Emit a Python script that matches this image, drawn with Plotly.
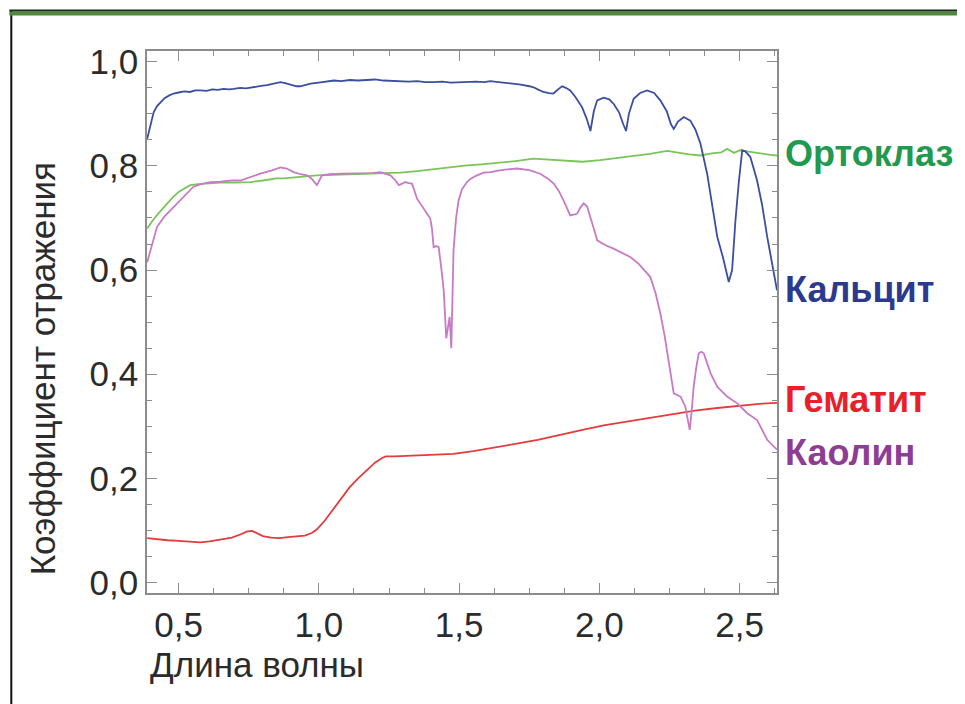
import plotly.graph_objects as go

# ---- data ----
calcite_x = [0.388,0.40,0.411,0.423,0.435,0.45,0.465,0.482,0.50,0.52,0.54,0.56,0.577,0.60,0.62,0.64,0.66,0.68,0.696,0.72,0.74,0.76,0.78,0.80,0.815,0.84,0.863,0.88,0.90,0.92,0.934,0.95,0.97,1.0,1.03,1.053,1.08,1.11,1.14,1.172,1.20,1.23,1.26,1.29,1.32,1.35,1.38,1.408,1.44,1.47,1.50,1.528,1.56,1.59,1.611,1.64,1.66,1.683,1.72,1.75,1.765,1.78,1.80,1.82,1.836,1.855,1.867,1.88,1.896,1.915,1.938,1.955,1.968,1.98,1.992,2.015,2.035,2.051,2.07,2.085,2.095,2.105,2.122,2.145,2.17,2.195,2.217,2.24,2.255,2.265,2.28,2.301,2.324,2.342,2.36,2.384,2.408,2.42,2.44,2.461,2.473,2.485,2.497,2.509,2.52,2.538,2.562,2.58,2.598,2.615,2.633]
calcite_y = [0.852,0.88,0.903,0.915,0.922,0.930,0.935,0.939,0.941,0.943,0.942,0.945,0.945,0.944,0.947,0.946,0.948,0.947,0.948,0.950,0.949,0.951,0.952,0.954,0.955,0.958,0.961,0.959,0.956,0.953,0.953,0.955,0.958,0.960,0.962,0.964,0.963,0.965,0.964,0.965,0.966,0.964,0.963,0.963,0.962,0.963,0.961,0.961,0.962,0.960,0.961,0.961,0.962,0.961,0.963,0.961,0.960,0.959,0.956,0.953,0.951,0.947,0.942,0.940,0.939,0.948,0.953,0.950,0.945,0.932,0.913,0.890,0.867,0.905,0.926,0.931,0.928,0.919,0.903,0.880,0.867,0.900,0.929,0.940,0.945,0.940,0.926,0.905,0.880,0.871,0.885,0.894,0.887,0.870,0.843,0.785,0.709,0.664,0.625,0.577,0.600,0.696,0.770,0.830,0.828,0.817,0.772,0.725,0.664,0.615,0.561]

orthoclase_x = [0.388,0.41,0.435,0.459,0.48,0.50,0.52,0.541,0.57,0.613,0.65,0.70,0.756,0.80,0.85,0.874,0.93,0.993,1.05,1.10,1.172,1.23,1.29,1.35,1.40,1.45,1.528,1.58,1.65,1.70,1.765,1.82,1.88,1.94,2.003,2.06,2.12,2.18,2.241,2.28,2.32,2.36,2.40,2.435,2.455,2.48,2.50,2.538,2.58,2.61,2.633]
orthoclase_y = [0.680,0.697,0.713,0.728,0.740,0.750,0.757,0.763,0.765,0.767,0.768,0.768,0.769,0.772,0.776,0.776,0.779,0.782,0.783,0.784,0.785,0.786,0.787,0.790,0.793,0.797,0.801,0.803,0.806,0.809,0.814,0.812,0.810,0.808,0.811,0.815,0.820,0.823,0.829,0.825,0.822,0.820,0.824,0.826,0.833,0.825,0.830,0.827,0.823,0.821,0.820]

kaolin_x = [0.388,0.40,0.423,0.45,0.482,0.52,0.553,0.58,0.613,0.65,0.69,0.72,0.75,0.791,0.83,0.863,0.885,0.91,0.935,0.958,0.975,0.993,1.011,1.04,1.08,1.112,1.15,1.19,1.219,1.24,1.255,1.273,1.285,1.297,1.308,1.32,1.332,1.35,1.375,1.397,1.403,1.409,1.418,1.427,1.436,1.445,1.454,1.46,1.466,1.472,1.476,1.480,1.489,1.498,1.51,1.528,1.540,1.56,1.587,1.611,1.65,1.706,1.75,1.789,1.815,1.837,1.855,1.872,1.896,1.908,1.920,1.932,1.944,1.956,1.968,1.98,1.992,2.02,2.05,2.08,2.11,2.14,2.181,2.20,2.217,2.232,2.247,2.265,2.289,2.306,2.314,2.322,2.329,2.336,2.345,2.354,2.363,2.372,2.396,2.420,2.455,2.491,2.527,2.562,2.598,2.633]
kaolin_y = [0.615,0.640,0.683,0.703,0.721,0.742,0.760,0.765,0.769,0.770,0.772,0.772,0.778,0.785,0.791,0.797,0.795,0.788,0.784,0.782,0.775,0.763,0.782,0.784,0.785,0.785,0.785,0.786,0.788,0.785,0.782,0.772,0.763,0.766,0.769,0.767,0.766,0.737,0.716,0.699,0.680,0.644,0.646,0.644,0.605,0.561,0.469,0.495,0.510,0.450,0.540,0.638,0.700,0.734,0.755,0.769,0.775,0.781,0.787,0.788,0.792,0.795,0.792,0.785,0.776,0.766,0.752,0.734,0.705,0.706,0.708,0.720,0.728,0.722,0.702,0.680,0.657,0.648,0.641,0.633,0.625,0.612,0.587,0.556,0.517,0.475,0.421,0.363,0.357,0.338,0.315,0.293,0.330,0.376,0.412,0.440,0.443,0.440,0.402,0.376,0.357,0.344,0.325,0.312,0.274,0.255]

hematite_x = [0.388,0.42,0.46,0.50,0.54,0.577,0.61,0.65,0.69,0.72,0.745,0.762,0.78,0.80,0.83,0.86,0.89,0.92,0.95,0.975,0.993,1.02,1.05,1.08,1.11,1.14,1.17,1.20,1.225,1.239,1.27,1.32,1.40,1.48,1.55,1.62,1.70,1.78,1.86,1.94,2.02,2.10,2.18,2.26,2.34,2.42,2.50,2.57,2.633]
hematite_y = [0.085,0.083,0.081,0.080,0.079,0.077,0.079,0.082,0.086,0.092,0.098,0.099,0.095,0.089,0.086,0.085,0.087,0.088,0.090,0.095,0.102,0.118,0.140,0.163,0.183,0.200,0.216,0.230,0.239,0.242,0.242,0.243,0.245,0.247,0.252,0.258,0.266,0.274,0.284,0.293,0.302,0.309,0.317,0.324,0.330,0.335,0.340,0.343,0.345]

series_names = ["Ортоклаз", "Кальцит", "Гематит", "Каолин"]
line_colors = ["#7cc45a", "#3c4ea0", "#e23c3c", "#c77ac6"]
label_colors = ["#1f9a4e", "#2b3990", "#e8202a", "#8e3c94"]
label_y = [0.824, 0.563, 0.351, 0.249]

x_title = "Длина волны"
y_title = "Коэффициент отражения"

FONT = "Liberation Sans, Arial, sans-serif"
TXT = "#2b2b2b"
AX = "#8c8c8c"

# the page body has an 8px margin; the figure is sized/placed so that the
# plot area lands on the same screen pixels as in the reference
OFF = 8
W, H = 965 - OFF, 704 - OFF
PL, PR, PT, PB = 146.7, 776.7, 50.5, 593.3   # plot-area edges on screen
PW, PH = PR - PL, PB - PT


def px(X):
    return (X - PL) / PW


def py(Y):
    return (PB - Y) / PH


fig = go.Figure()
data = [(orthoclase_x, orthoclase_y), (calcite_x, calcite_y),
        (hematite_x, hematite_y), (kaolin_x, kaolin_y)]
for (xs, ys), name, col in zip(data, series_names, line_colors):
    fig.add_trace(go.Scatter(x=xs, y=ys, mode="lines", name=name,
                             line=dict(color=col, width=1.8), showlegend=False))

for name, col, yv in zip(series_names, label_colors, label_y):
    fig.add_annotation(x=1, xref="paper", xshift=6, y=yv, yref="y",
                       text=f"<b>{name}</b>", showarrow=False,
                       xanchor="left", yanchor="middle",
                       font=dict(family=FONT, size=36, color=col))

fig.add_annotation(x=px(42), xref="paper", y=py(369), yref="paper",
                   text=y_title, textangle=-90, showarrow=False,
                   xanchor="center", yanchor="middle",
                   font=dict(family=FONT, size=35, color=TXT))
fig.add_annotation(x=px(148), xref="paper", y=py(665), yref="paper",
                   text=x_title, showarrow=False,
                   xanchor="left", yanchor="middle",
                   font=dict(family=FONT, size=35, color=TXT))

# outer frame decoration (page border)
fig.add_shape(type="line", xref="paper", yref="paper",
              x0=px(11), x1=px(11), y0=py(10), y1=py(710),
              line=dict(color="#111111", width=2))
fig.add_shape(type="rect", xref="paper", yref="paper",
              x0=px(9), x1=px(970), y0=py(11), y1=py(15),
              line=dict(width=0), fillcolor="#4f8a3c")
fig.add_shape(type="line", xref="paper", yref="paper",
              x0=px(9), x1=px(970), y0=py(10), y1=py(10),
              line=dict(color="#1c2a18", width=2))

fig.update_xaxes(range=[0.3873, 2.633], dtick=0.5, tick0=0.5, tickformat=".1f",
                 ticks="inside", ticklen=10, tickwidth=1.2, tickcolor=AX,
                 minor=dict(ticks="inside", dtick=0.125, tick0=0.5, ticklen=5,
                            tickcolor=AX, tickwidth=1.2),
                 showline=True, linecolor=AX, linewidth=1.5, mirror="allticks",
                 showgrid=False, zeroline=False,
                 tickfont=dict(family=FONT, size=35, color=TXT))
fig.update_yaxes(range=[-0.0203, 1.0207], dtick=0.2, tick0=0, tickformat=".1f",
                 ticks="inside", ticklen=10, tickwidth=1.2, tickcolor=AX,
                 minor=dict(ticks="inside", dtick=0.05, tick0=0, ticklen=5,
                            tickcolor=AX, tickwidth=1.2),
                 showline=True, linecolor=AX, linewidth=1.5, mirror="allticks",
                 showgrid=False, zeroline=False,
                 tickfont=dict(family=FONT, size=35, color=TXT))

fig.update_layout(width=W, height=H, separators=", ",
                  margin=dict(l=PL - OFF, r=W - (PR - OFF), t=PT - OFF,
                              b=H - (PB - OFF), autoexpand=False),
                  paper_bgcolor="white", plot_bgcolor="white")

fig.write_html("out.html")
